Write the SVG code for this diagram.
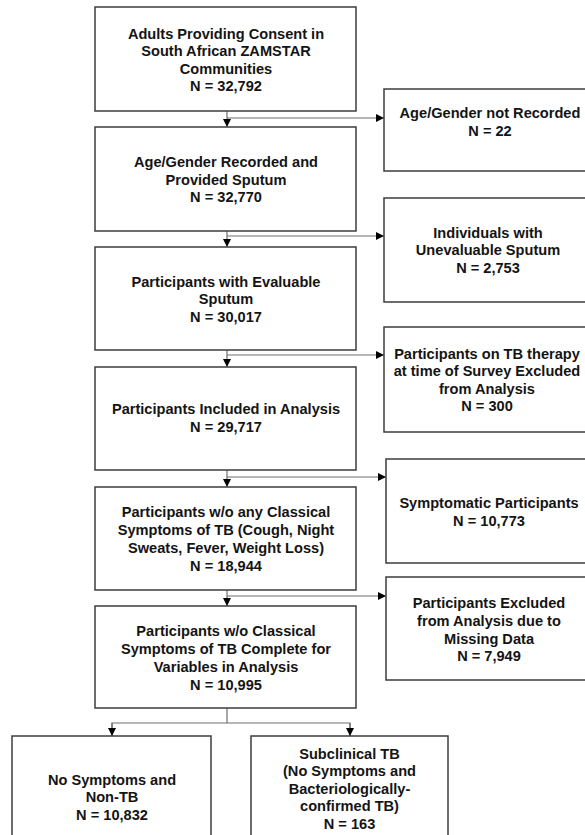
<svg xmlns="http://www.w3.org/2000/svg" width="585" height="835" viewBox="0 0 585 835">
<style>
.box{fill:#fff;stroke:#3c3c3c;stroke-width:1.5}
.t{font-family:"Liberation Sans",Arial,sans-serif;font-weight:bold;font-size:14.6px;fill:#141414;text-anchor:middle}
.c{fill:none;stroke:#6e6e6e;stroke-width:1.2}
</style>
<defs>
<marker id="ah" viewBox="0 0 10 10" refX="10" refY="5" markerWidth="8" markerHeight="8" markerUnits="userSpaceOnUse" orient="auto">
<path d="M0,0 L10,5 L0,10 Z" fill="#000"/>
</marker>
</defs>
<rect width="585" height="835" fill="#fff"/>
<g id="connectors">
<path class="c" d="M227,111 V127" marker-end="url(#ah)"/>
<path class="c" d="M227,118 H384" marker-end="url(#ah)"/>
<path class="c" d="M227,231 V247" marker-end="url(#ah)"/>
<path class="c" d="M227,236 H384" marker-end="url(#ah)"/>
<path class="c" d="M227,350 V367" marker-end="url(#ah)"/>
<path class="c" d="M227,355 H384" marker-end="url(#ah)"/>
<path class="c" d="M227,470 V487" marker-end="url(#ah)"/>
<path class="c" d="M227,477 H386" marker-end="url(#ah)"/>
<path class="c" d="M227,590 V606" marker-end="url(#ah)"/>
<path class="c" d="M227,596 H386" marker-end="url(#ah)"/>
<path class="c" d="M227,708 V723"/>
<path class="c" d="M112,736 V723 H350 V736"/>
<path class="c" d="M112,723 V736" marker-end="url(#ah)"/>
<path class="c" d="M350,723 V736" marker-end="url(#ah)"/>
</g>
<g id="n1"><rect class="box" x="95" y="7" width="261" height="104"/>
<text class="t" x="226" y="38.5">Adults Providing Consent in</text>
<text class="t" x="226" y="56">South African ZAMSTAR</text>
<text class="t" x="226" y="73.5">Communities</text>
<text class="t" x="226" y="91">N = 32,792</text></g>
<g id="n2"><rect class="box" x="95" y="127" width="261" height="104"/>
<text class="t" x="226" y="167">Age/Gender Recorded and</text>
<text class="t" x="226" y="184.5">Provided Sputum</text>
<text class="t" x="226" y="202">N = 32,770</text></g>
<g id="n3"><rect class="box" x="95" y="247" width="261" height="103"/>
<text class="t" x="226" y="286.5">Participants with Evaluable</text>
<text class="t" x="226" y="304">Sputum</text>
<text class="t" x="226" y="321.5">N = 30,017</text></g>
<g id="n4"><rect class="box" x="95" y="367" width="261" height="103"/>
<text class="t" x="226" y="414">Participants Included in Analysis</text>
<text class="t" x="226" y="431.5">N = 29,717</text></g>
<g id="n5"><rect class="box" x="95" y="487" width="261" height="103"/>
<text class="t" x="226" y="517">Participants w/o any Classical</text>
<text class="t" x="226" y="535">Symptoms  of TB (Cough, Night</text>
<text class="t" x="226" y="552.5">Sweats, Fever, Weight Loss)</text>
<text class="t" x="226" y="570.5">N = 18,944</text></g>
<g id="n6"><rect class="box" x="95" y="606" width="261" height="102"/>
<text class="t" x="226" y="636">Participants w/o Classical</text>
<text class="t" x="226" y="654">Symptoms  of TB Complete for</text>
<text class="t" x="226" y="671.5">Variables in Analysis</text>
<text class="t" x="226" y="689.5">N = 10,995</text></g>
<g id="r1"><rect class="box" x="384" y="89" width="208" height="82"/>
<text class="t" x="490" y="118">Age/Gender not Recorded</text>
<text class="t" x="490" y="136">N = 22</text></g>
<g id="r2"><rect class="box" x="384" y="198" width="208" height="104"/>
<text class="t" x="488" y="237.5">Individuals with</text>
<text class="t" x="488" y="255">Unevaluable Sputum</text>
<text class="t" x="488" y="272.5">N = 2,753</text></g>
<g id="r3"><rect class="box" x="384" y="327" width="208" height="105"/>
<text class="t" x="487" y="358.5">Participants on TB therapy</text>
<text class="t" x="487" y="376">at time of Survey Excluded</text>
<text class="t" x="487" y="393.5">from Analysis</text>
<text class="t" x="487" y="411">N = 300</text></g>
<g id="r4"><rect class="box" x="386" y="459" width="206" height="104"/>
<text class="t" x="489" y="508">Symptomatic Participants</text>
<text class="t" x="489" y="525.5">N = 10,773</text></g>
<g id="r5"><rect class="box" x="386" y="577" width="206" height="103"/>
<text class="t" x="489" y="608">Participants Excluded</text>
<text class="t" x="489" y="626">from Analysis due to</text>
<text class="t" x="489" y="643.5">Missing Data</text>
<text class="t" x="489" y="661">N = 7,949</text></g>
<g id="b1"><rect class="box" x="12" y="736" width="199" height="110"/>
<text class="t" x="112" y="784.5">No Symptoms  and</text>
<text class="t" x="112" y="802">Non-TB</text>
<text class="t" x="112" y="819.5">N = 10,832</text></g>
<g id="b2"><rect class="box" x="251" y="736" width="197" height="110"/>
<text class="t" x="349.5" y="758.5">Subclinical TB</text>
<text class="t" x="349.5" y="776">(No Symptoms  and</text>
<text class="t" x="349.5" y="793.5">Bacteriologically-</text>
<text class="t" x="349.5" y="811">confirmed TB)</text>
<text class="t" x="349.5" y="828.5">N = 163</text></g>
</svg>
